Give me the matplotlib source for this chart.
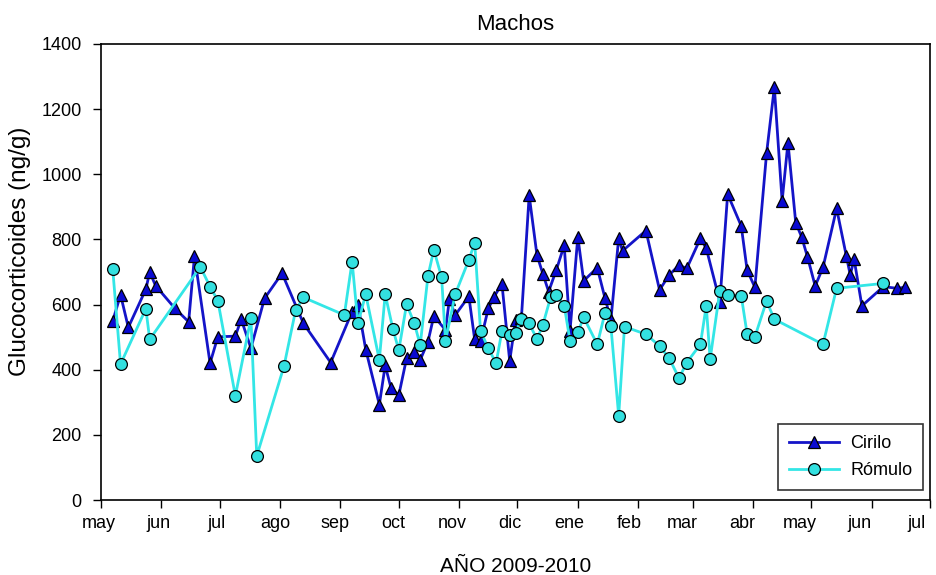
import numpy as np
import pandas as pd
import matplotlib
matplotlib.use("Agg")
import matplotlib.pyplot as plt
import matplotlib.transforms as mtransforms

plt.rcParams['font.family'] = ['Liberation Sans', 'DejaVu Sans']

# Cirilo: fechas de muestreo y glucocorticoides (ng/g)
cirilo_fechas = [
    "2009-05-07", "2009-05-11", "2009-05-15", "2009-05-24", "2009-05-26", "2009-05-29",
    "2009-06-08", "2009-06-15", "2009-06-18", "2009-06-26", "2009-06-30", "2009-07-09",
    "2009-07-12", "2009-07-17", "2009-07-24", "2009-08-02", "2009-08-13", "2009-08-27",
    "2009-09-07", "2009-09-10", "2009-09-14", "2009-09-21", "2009-09-24", "2009-09-27",
    "2009-10-01", "2009-10-05", "2009-10-09", "2009-10-12", "2009-10-16", "2009-10-19",
    "2009-10-25", "2009-10-27", "2009-10-30", "2009-11-06", "2009-11-09", "2009-11-12",
    "2009-11-16", "2009-11-19", "2009-11-23", "2009-11-27", "2009-11-30", "2009-12-03",
    "2009-12-07", "2009-12-11", "2009-12-14", "2009-12-17", "2009-12-21", "2009-12-25",
    "2009-12-28", "2010-01-01", "2010-01-04", "2010-01-11", "2010-01-15", "2010-01-18",
    "2010-01-22", "2010-01-24", "2010-02-05", "2010-02-12", "2010-02-17", "2010-02-22",
    "2010-02-26", "2010-03-05", "2010-03-08", "2010-03-15", "2010-03-19", "2010-03-26",
    "2010-03-29", "2010-04-02", "2010-04-08", "2010-04-12", "2010-04-16", "2010-04-19",
    "2010-04-23", "2010-04-26", "2010-04-29", "2010-05-03", "2010-05-07", "2010-05-14",
    "2010-05-19", "2010-05-21", "2010-05-23", "2010-05-27", "2010-06-07", "2010-06-14",
    "2010-06-18",
]
cirilo_valores = [
    550, 630, 530, 647, 700, 658,
    588, 547, 749, 420, 501, 503,
    555, 466, 619, 696, 542, 422,
    578, 600, 462, 293, 413, 344,
    322, 435, 455, 430, 486, 565,
    522, 616, 568, 625, 493, 488,
    588, 624, 664, 427, 553, 558,
    935, 752, 695, 640, 707, 782,
    520, 808, 673, 713, 619, 553,
    803, 765, 827, 645, 691, 721,
    711, 803, 773, 609, 939, 841,
    706, 653, 1064, 1267, 918, 1097,
    851, 808, 747, 657, 714, 895,
    749, 691, 739, 596, 655, 650,
    653,
]

# Rómulo
romulo_fechas = [
    "2009-05-07", "2009-05-11", "2009-05-24", "2009-05-26", "2009-06-21", "2009-06-26",
    "2009-06-30", "2009-07-09", "2009-07-17", "2009-07-20", "2009-08-03", "2009-08-09",
    "2009-08-13", "2009-09-03", "2009-09-07", "2009-09-10", "2009-09-14", "2009-09-21",
    "2009-09-24", "2009-09-28", "2009-10-01", "2009-10-05", "2009-10-09", "2009-10-12",
    "2009-10-16", "2009-10-19", "2009-10-23", "2009-10-25", "2009-10-30", "2009-11-06",
    "2009-11-09", "2009-11-12", "2009-11-16", "2009-11-20", "2009-11-23", "2009-11-27",
    "2009-11-30", "2009-12-03", "2009-12-07", "2009-12-11", "2009-12-14", "2009-12-18",
    "2009-12-21", "2009-12-25", "2009-12-28", "2010-01-01", "2010-01-04", "2010-01-11",
    "2010-01-15", "2010-01-18", "2010-01-22", "2010-01-25", "2010-02-05", "2010-02-12",
    "2010-02-17", "2010-02-22", "2010-02-26", "2010-03-05", "2010-03-08", "2010-03-10",
    "2010-03-15", "2010-03-19", "2010-03-26", "2010-03-29", "2010-04-02", "2010-04-08",
    "2010-04-12", "2010-05-07", "2010-05-14", "2010-06-07",
]
romulo_valores = [
    708, 417, 587, 493, 716, 655,
    612, 320, 558, 135, 411, 583,
    622, 568, 732, 542, 632, 430,
    632, 524, 460, 601, 542, 476,
    688, 768, 684, 489, 632, 737,
    790, 519, 466, 420, 519, 507,
    512, 557, 542, 494, 537, 622,
    629, 597, 489, 515, 561, 478,
    575, 534, 259, 532, 509, 473,
    435, 374, 422, 478, 596, 432,
    643, 629, 627, 510, 501, 611,
    555, 478, 650, 665,
]

meses = ["may", "jun", "jul", "ago", "sep", "oct", "nov", "dic",
         "ene", "feb", "mar", "abr", "may", "jun", "jul"]

fig = plt.figure(figsize=(9.36, 5.75), dpi=100)
ax = fig.add_axes([0.108, 0.1304, 0.8856, 0.7931])

ax.plot(pd.to_datetime(cirilo_fechas), cirilo_valores, color='#1414c8', linewidth=2,
        marker='^', markersize=8.5, markerfacecolor='#0a0ad2', markeredgecolor='black',
        markeredgewidth=0.9, label='Cirilo', zorder=2)
ax.plot(pd.to_datetime(romulo_fechas), romulo_valores, color='#33e6e6', linewidth=2,
        marker='o', markersize=8.5, markerfacecolor='#33e0e0', markeredgecolor='black',
        markeredgewidth=0.9, label='Rómulo', zorder=3)

ticks = pd.date_range("2009-05-01", "2010-07-01", freq="MS")
ax.set_xticks(ticks)
ax.set_xticklabels(meses)
ax.set_xlim(ticks[0], ticks[-1])
ax.set_ylim(0, 1400)
ax.set_yticks(np.arange(0, 1401, 200))

ax.tick_params(axis='both', direction='out', length=6, width=1, labelsize=13, colors='black')
ax.tick_params(axis='x', pad=5)
ax.tick_params(axis='y', pad=8)

# las etiquetas de mes van repartidas a igual distancia, algo a la izquierda de las marcas
n = len(meses)
for i, lab in enumerate(ax.get_xticklabels()):
    dx = -(2 + 11 * i / (n - 1)) / 100
    lab.set_transform(lab.get_transform() + mtransforms.ScaledTranslation(dx, 0, fig.dpi_scale_trans))

for s in ax.spines.values():
    s.set_linewidth(1.2)

ax.set_title("Machos", fontsize=16, pad=10)
ax.set_xlabel("AÑO 2009-2010", fontsize=15, labelpad=18)
ax.set_ylabel("Glucocorticoides (ng/g)", fontsize=17.5)
ax.yaxis.set_label_coords(-0.084, 0.546)

leg = ax.legend(loc='lower right', fontsize=13, frameon=True, fancybox=False,
                edgecolor='black', handlelength=2.8, borderpad=0.6, labelspacing=0.55,
                handletextpad=0.6, borderaxespad=0, bbox_to_anchor=(0.9915, 0.022))
leg.get_frame().set_linewidth(1.2)

fig.savefig("out.png", dpi=100)
